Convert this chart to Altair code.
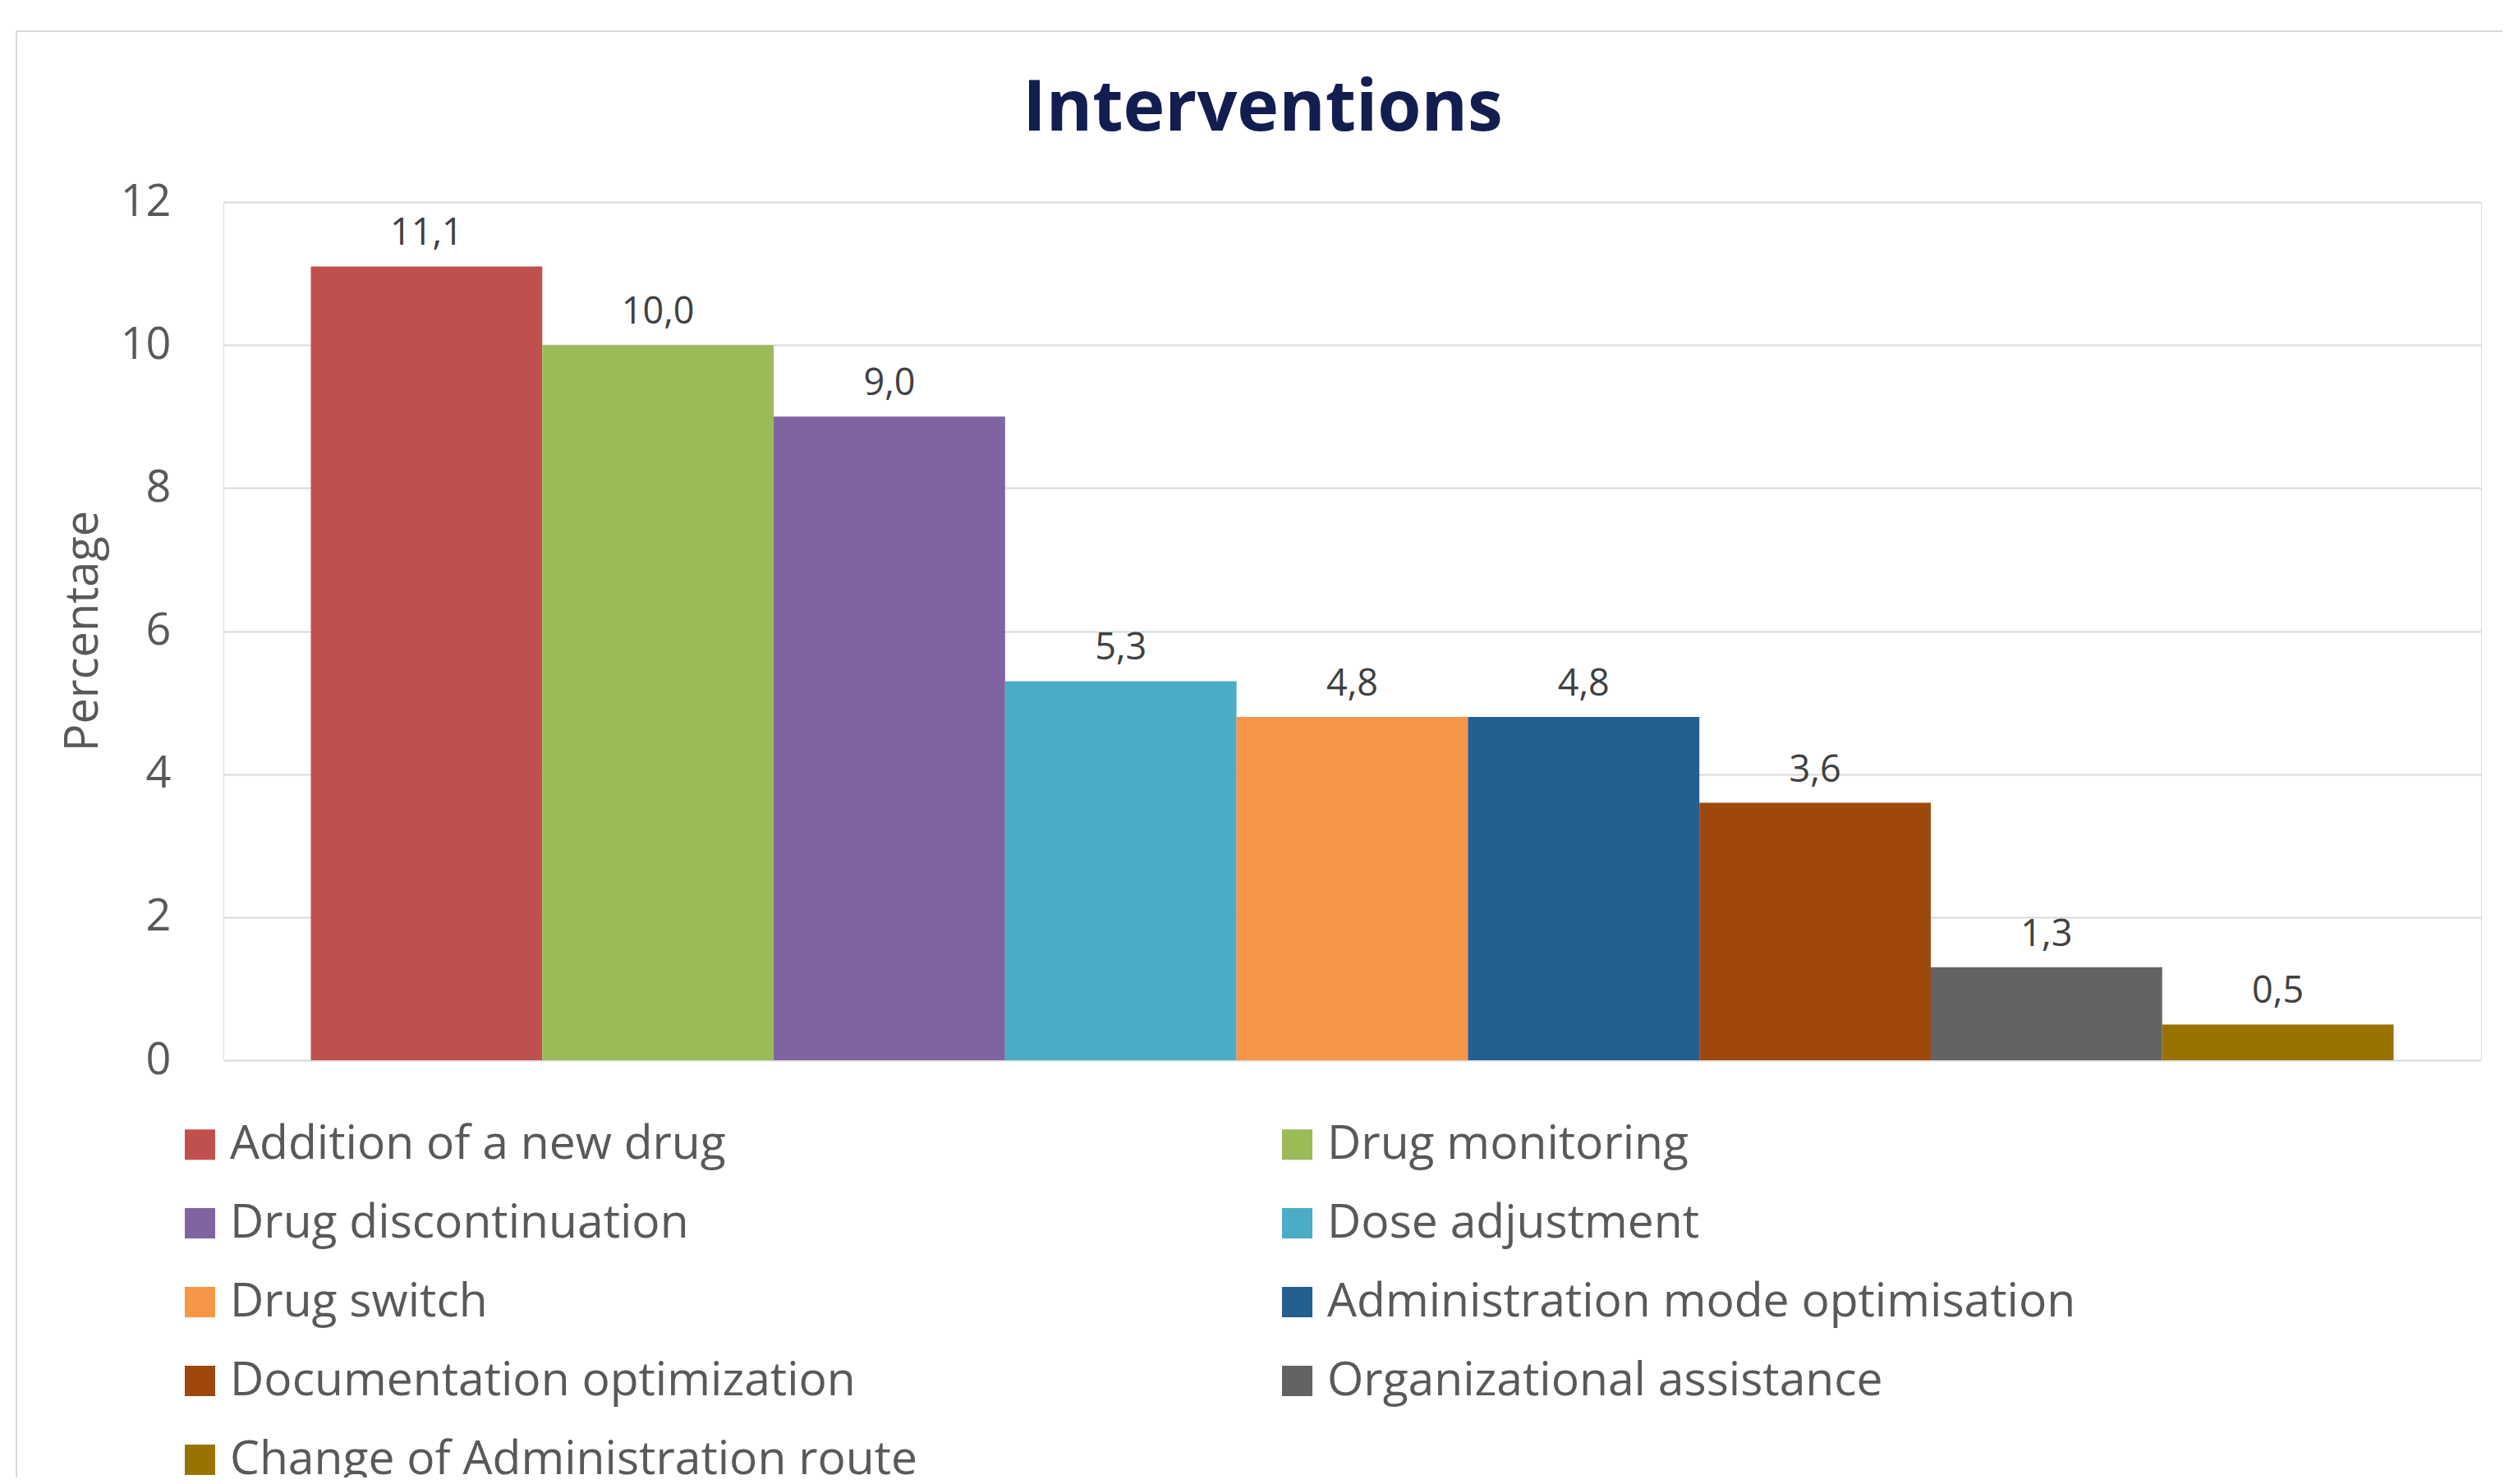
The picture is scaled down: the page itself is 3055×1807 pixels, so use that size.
import altair as alt
import pandas as pd

categories = [
    "Addition of a new drug",
    "Drug monitoring",
    "Drug discontinuation",
    "Dose adjustment",
    "Drug switch",
    "Administration mode optimisation",
    "Documentation optimization",
    "Organizational assistance",
    "Change of Administration route",
]
values = [11.1, 10.0, 9.0, 5.3, 4.8, 4.8, 3.6, 1.3, 0.5]
colors = ["#C0504D", "#9BBB59", "#8064A2", "#4BACC6", "#F79646",
          "#255E91", "#9E480E", "#636363", "#997300"]
y_ticks = [0, 2, 4, 6, 8, 10, 12]

df = pd.DataFrame({
    "category": categories,
    "value": values,
    "label": [f"{v:.1f}".replace(".", ",") for v in values],
})

W, H = 2749, 1045
FONT = "Open Sans"

x_enc = alt.X("category:N", sort=categories, axis=None,
              scale=alt.Scale(paddingInner=0, paddingOuter=0.378))
y_enc = alt.Y(
    "value:Q",
    scale=alt.Scale(domain=[0, 12], nice=False),
    axis=alt.Axis(
        values=y_ticks, title="Percentage", format="d",
        labelFont=FONT, labelFontSize=54, labelColor="#595959", labelPadding=64,
        ticks=False, domain=False, grid=True, gridColor="#d9d9d9", gridWidth=2,
        titleFont=FONT, titleFontSize=56, titleFontWeight="normal", titleColor="#595959",
        titleX=-171, titleY=522, titleAngle=270, titleAlign="center", titleBaseline="middle",
    ),
)

bars = alt.Chart(df).mark_bar().encode(
    x=x_enc,
    y=y_enc,
    color=alt.Color(
        "category:N", sort=categories,
        scale=alt.Scale(domain=categories, range=colors),
        legend=alt.Legend(
            orient="none", legendX=-57, legendY=1119, columns=2, direction="horizontal",
            columnPadding=433, rowPadding=38, padding=0, title=None,
            symbolType="square", symbolSize=1369, symbolStrokeWidth=0,
            labelFont=FONT, labelFontSize=57, labelColor="#595959",
            labelOffset=8, labelLimit=3000,
        ),
    ),
)

labels = alt.Chart(df).mark_text(
    baseline="alphabetic", dy=-26, fontSize=45, font=FONT, color="#404040"
).encode(x=x_enc, y=alt.Y("value:Q"), text="label:N")

frame_df = pd.DataFrame({"f": [0]})
frame = alt.Chart(frame_df).mark_rect(
    fillOpacity=0, stroke="#d9d9d9", strokeWidth=2
).encode(x=alt.value(-252), x2=alt.value(2779), y=alt.value(-208), y2=alt.value(1700))

chart = alt.layer(frame, bars, labels).properties(
    width=W, height=H,
    title=alt.TitleParams(
        "Interventions", font=FONT, fontSize=86, fontWeight="bold",
        color="#121e4f", anchor="middle", dx=-109, dy=210, offset=70,
    ),
    padding={"left": 264, "top": 238, "right": 26, "bottom": 508},
    autosize=alt.AutoSizeParams(type="none"),
).configure_view(stroke=None).configure(background="white")

chart.save("out.html", embed_options={"renderer": "svg", "actions": False})
